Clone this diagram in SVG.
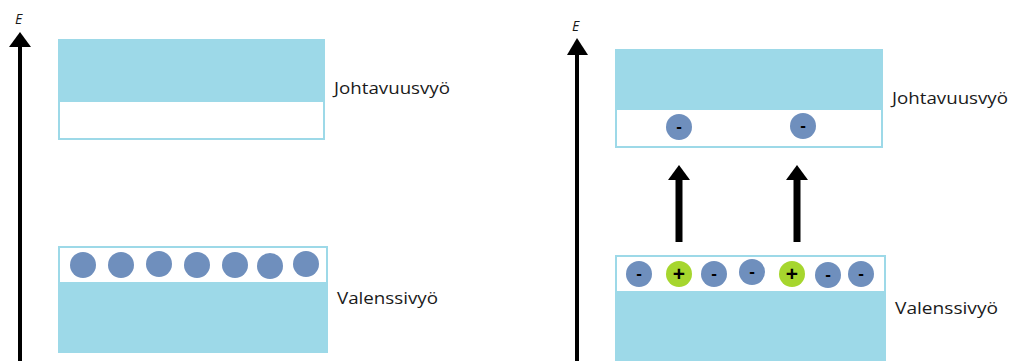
<svg xmlns="http://www.w3.org/2000/svg" width="1013" height="361" viewBox="0 0 1013 361">
<style>
.band{fill:#9dd9e8}
.gap{fill:#ffffff;stroke:#9dd9e8;stroke-width:2}
.e{fill:#6f8fbd}
.h{fill:#a6d62e}
.lbl{font-family:"Open Sans","Noto Sans",sans-serif;font-size:16px;fill:#1a1a1a}
.axl{font-family:"Open Sans","Noto Sans",sans-serif;font-size:14px;font-style:italic;fill:#1a1a1a}
.sg{font-family:"Liberation Sans",Arial,sans-serif;font-weight:bold;fill:#000;text-anchor:middle}
.axis{stroke:#000;stroke-width:4;fill:none}
.up{stroke:#000;stroke-width:7;fill:none}
</style>
<g id="connectors">
<line class="axis" x1="20" y1="361" x2="20" y2="47"/>
<path d="M9,47 L20,32 L31,47 Z" fill="#000"/>
<line class="axis" x1="577" y1="361" x2="577" y2="55"/>
<path d="M567,55 L577,38 L588,55 Z" fill="#000"/>
<line class="up" x1="679" y1="242" x2="679" y2="178"/>
<path d="M668,180 L679,165 L690,180 Z" fill="#000"/>
<line class="up" x1="797" y1="242" x2="797" y2="178"/>
<path d="M786,180 L797,165 L808,180 Z" fill="#000"/>
</g>
<g id="axis-left-label"><text class="axl" x="15" y="24">E</text></g>
<g id="axis-right-label"><text class="axl" x="572" y="31">E</text></g>
<g id="left-conduction">
<rect class="gap" x="59" y="95" width="265" height="44"/>
<rect class="band" x="58" y="39" width="267" height="63"/>
<text class="lbl" x="334" y="94" textLength="116" lengthAdjust="spacingAndGlyphs">Johtavuusvyö</text>
</g>
<g id="left-valence">
<rect class="band" x="58" y="280" width="270" height="73"/>
<rect class="gap" x="59" y="247" width="268" height="36"/>
<circle class="e" cx="83" cy="265" r="13"/>
<circle class="e" cx="121" cy="265" r="13"/>
<circle class="e" cx="159" cy="264" r="13"/>
<circle class="e" cx="197" cy="265" r="13"/>
<circle class="e" cx="235" cy="265" r="13"/>
<circle class="e" cx="270" cy="266" r="13"/>
<circle class="e" cx="306" cy="264" r="13"/>
<text class="lbl" x="337" y="304" textLength="101" lengthAdjust="spacingAndGlyphs">Valenssivyö</text>
</g>
<g id="right-conduction">
<rect class="gap" x="616" y="105" width="266" height="42"/>
<rect class="band" x="615" y="49" width="268" height="61"/>
<circle class="e" cx="679" cy="127" r="13"/>
<text class="sg" x="679" y="132" font-size="17">-</text>
<circle class="e" cx="803" cy="126" r="13"/>
<text class="sg" x="803" y="131" font-size="17">-</text>
<text class="lbl" x="892" y="104" textLength="116" lengthAdjust="spacingAndGlyphs">Johtavuusvyö</text>
</g>
<g id="right-valence">
<rect class="band" x="615" y="288" width="271" height="73"/>
<rect class="gap" x="616" y="256" width="269" height="36"/>
<circle class="e" cx="639" cy="274" r="13"/>
<text class="sg" x="639" y="279" font-size="17">-</text>
<circle class="h" cx="679" cy="274" r="13"/>
<text class="sg" x="679" y="281" font-size="21">+</text>
<circle class="e" cx="714" cy="274" r="13"/>
<text class="sg" x="714" y="279" font-size="17">-</text>
<circle class="e" cx="752" cy="272" r="13"/>
<text class="sg" x="752" y="277" font-size="17">-</text>
<circle class="h" cx="792" cy="274" r="13"/>
<text class="sg" x="792" y="281" font-size="21">+</text>
<circle class="e" cx="828" cy="275" r="13"/>
<text class="sg" x="828" y="280" font-size="17">-</text>
<circle class="e" cx="861" cy="274" r="13"/>
<text class="sg" x="861" y="279" font-size="17">-</text>
<text class="lbl" x="895" y="314" textLength="103" lengthAdjust="spacingAndGlyphs">Valenssivyö</text>
</g>
</svg>
